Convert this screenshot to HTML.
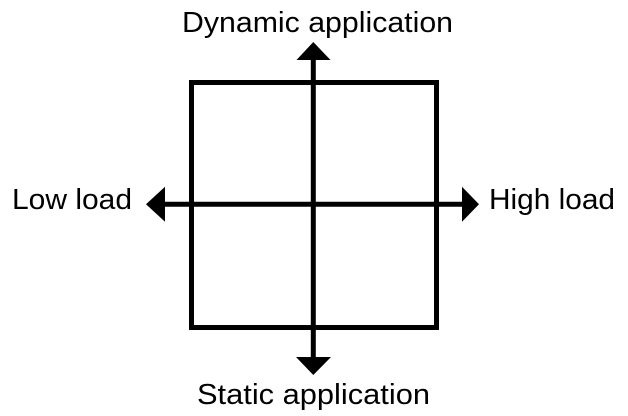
<!DOCTYPE html>
<html><head><style>html,body{margin:0;padding:0;background:#fff;}svg{display:block}</style></head>
<body>
<svg width="628" height="416" viewBox="0 0 628 416" xmlns="http://www.w3.org/2000/svg">
<rect x="191.5" y="82.5" width="245" height="245" fill="none" stroke="#000" stroke-width="5"/>
<line x1="313.3" y1="58" x2="313.3" y2="359" stroke="#000" stroke-width="5"/>
<line x1="163" y1="204.3" x2="464" y2="204.3" stroke="#000" stroke-width="5"/>
<polygon points="313.3,42 296.5,60 330.5,60" fill="#000"/>
<polygon points="313.3,375 296,357 331,357" fill="#000"/>
<polygon points="146,204.3 165,186.7 165,221.7" fill="#000"/>
<polygon points="479,204.3 462,186.7 462,221.7" fill="#000"/>
<g font-family="Liberation Sans, Arial, sans-serif" font-size="29" fill="#000">
<text x="317.5" y="32" text-anchor="middle" textLength="271" lengthAdjust="spacingAndGlyphs">Dynamic application</text>
<text x="12" y="209" textLength="120" lengthAdjust="spacingAndGlyphs">Low load</text>
<text x="489" y="209" textLength="126" lengthAdjust="spacingAndGlyphs">High load</text>
<text x="313.5" y="404" text-anchor="middle" textLength="233" lengthAdjust="spacingAndGlyphs">Static application</text>
</g>
</svg>
</body></html>
